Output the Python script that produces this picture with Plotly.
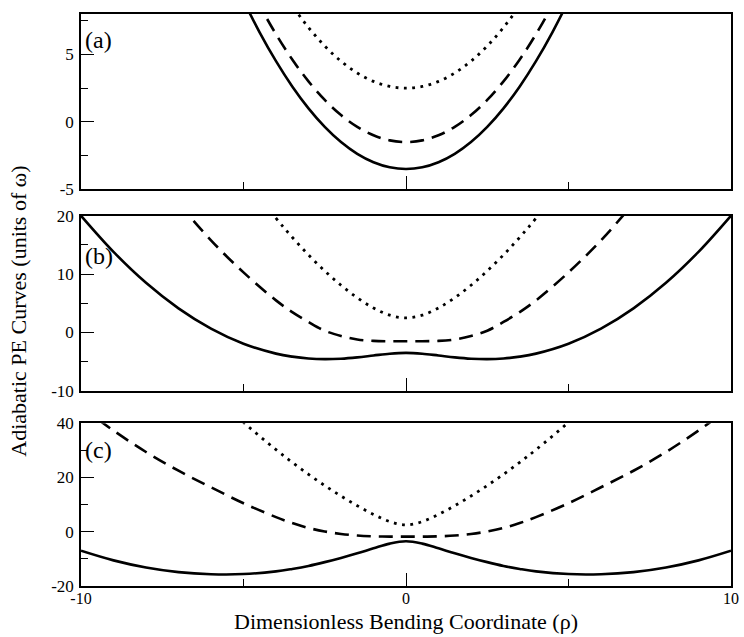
import plotly.graph_objects as go

# ---------------- data ----------------
rho_a = [-6, -5.5, -5, -4.5, -4, -3.5, -3, -2.5, -2, -1.5, -1, -0.5, 0,
         0.5, 1, 1.5, 2, 2.5, 3, 3.5, 4, 4.5, 5, 5.5, 6]
a_solid = [14.5, 11.625, 9.0, 6.625, 4.5, 2.625, 1.0, -0.375, -1.5, -2.375, -3.0, -3.375, -3.5,
           -3.375, -3.0, -2.375, -1.5, -0.375, 1.0, 2.625, 4.5, 6.625, 9.0, 11.625, 14.5]
a_dash = [16.5, 13.625, 11.0, 8.625, 6.5, 4.625, 3.0, 1.625, 0.5, -0.375, -1.0, -1.375, -1.5,
          -1.375, -1.0, -0.375, 0.5, 1.625, 3.0, 4.625, 6.5, 8.625, 11.0, 13.625, 16.5]
a_dot = [20.5, 17.625, 15.0, 12.625, 10.5, 8.625, 7.0, 5.625, 4.5, 3.625, 3.0, 2.625, 2.5,
         2.625, 3.0, 3.625, 4.5, 5.625, 7.0, 8.625, 10.5, 12.625, 15.0, 17.625, 20.5]

rho_bc = [-10, -9, -8, -7, -6, -5, -4, -3.5, -3, -2.5, -2, -1.5, -1, -0.5, 0,
          0.5, 1, 1.5, 2, 2.5, 3, 3.5, 4, 5, 6, 7, 8, 9, 10]
b_solid = [20.02, 13.82, 8.52, 4.14, 0.66, -1.93, -3.63, -4.15, -4.47, -4.58, -4.50, -4.27, -3.95, -3.64, -3.5,
           -3.64, -3.95, -4.27, -4.50, -4.58, -4.47, -4.15, -3.63, -1.93, 0.66, 4.14, 8.52, 13.82, 20.02]
b_dash = [47.0, 37.9, 29.5, 22.2, 15.8, 10.3, 5.5, 3.5, 1.8, 0.3, -0.6, -1.2, -1.45, -1.5, -1.5,
          -1.5, -1.45, -1.2, -0.6, 0.3, 1.8, 3.5, 5.5, 10.3, 15.8, 22.2, 29.5, 37.9, 47.0]
b_dot = [79.0, 66.6, 55.2, 44.7, 35.35, 26.97, 19.6, 16.32, 13.3, 10.55, 8.09, 5.95, 4.2, 2.96, 2.5,
         2.96, 4.2, 5.95, 8.09, 10.55, 13.3, 16.32, 19.6, 26.97, 35.35, 44.7, 55.2, 66.6, 79.0]

c_solid = [-7.0, -10.55, -13.18, -14.88, -15.65, -15.6, -14.6, -13.7, -12.6, -11.2, -9.64, -7.94, -6.12, -4.38, -3.5,
           -4.38, -6.12, -7.94, -9.64, -11.2, -12.6, -13.7, -14.6, -15.6, -15.65, -14.88, -13.18, -10.55, -7.0]
c_dash = [46.1, 37.3, 29.4, 22.5, 16.4, 10.5, 5.4, 3.2, 1.4, 0.1, -0.8, -1.4, -1.7, -1.8, -1.8,
          -1.8, -1.7, -1.4, -0.8, 0.1, 1.4, 3.2, 5.4, 10.5, 16.4, 22.5, 29.4, 37.3, 46.1]
c_dot = [106.0, 90.8, 76.7, 63.6, 51.5, 40.35, 30.26, 25.59, 21.18, 17.04, 13.17, 9.6, 6.39, 3.74, 2.5,
         3.74, 6.39, 9.6, 13.17, 17.04, 21.18, 25.59, 30.26, 40.35, 51.5, 63.6, 76.7, 90.8, 106.0]

x_ticks = [-10, 0, 10]
x_ticktext = ["-10", "0", "10"]
x_minor = [-5, 5]
ya_ticks, ya_text, ya_minor = [-5, 0, 5], ["-5", "0", "5"], [-2.5, 2.5, 7.5]
yb_ticks, yb_text, yb_minor = [-10, 0, 10, 20], ["-10", "0", "10", "20"], [-5, 5, 15]
yc_ticks, yc_text, yc_minor = [-20, 0, 20, 40], ["-20", "0", "20", "40"], [-10, 10, 30]
panel_labels = ["(a)", "(b)", "(c)"]
ytitle = "Adiabatic PE Curves (units of ω)"
xtitle = "Dimensionless Bending Coordinate (ρ)"

# ---------------- figure ----------------
FONT = "Liberation Serif"
W, H = 744, 637
ML, MR, MT, MB = 81, 9, 5, 51
PH = H - MT - MB

def py2paper(py):
    return (H - MB - py) / PH

fig = go.Figure()

styles = [dict(color="black", width=2.6),
          dict(color="black", width=2.6, dash="14px,8px"),
          dict(color="black", width=2.8, dash="2.8px,5.5px")]

panels = [(rho_a, [a_solid, a_dash, a_dot], "x", "y"),
          (rho_bc, [b_solid, b_dash, b_dot], "x2", "y2"),
          (rho_bc, [c_solid, c_dash, c_dot], "x3", "y3")]
for xs, series, xa, ya in panels:
    for ys, st in zip(series, styles):
        fig.add_trace(go.Scatter(x=xs, y=ys, mode="lines", xaxis=xa, yaxis=ya,
                                 line=dict(shape="spline", smoothing=1.0, **st),
                                 showlegend=False, hoverinfo="skip"))

common_axis = dict(showline=True, mirror=True, linecolor="black", linewidth=1.5,
                   showgrid=False, zeroline=False, ticks="inside", ticklen=13,
                   tickwidth=1.2, tickcolor="black",
                   tickfont=dict(family=FONT, size=17, color="black"))

def xaxis(anchor, show):
    return dict(common_axis, range=[-10, 10], anchor=anchor, tickmode="array",
                tickvals=x_ticks, ticktext=x_ticktext, showticklabels=show,
                tickfont=dict(family=FONT, size=16, color="black"),
                ticklabelstandoff=-3,
                minor=dict(tickmode="array", tickvals=x_minor, ticks="inside",
                           ticklen=7, tickwidth=1.2, tickcolor="black"))

def yaxis(anchor, rng, dom, tv, tt, mv):
    return dict(common_axis, range=rng, domain=dom, anchor=anchor, tickmode="array",
                tickvals=tv, ticktext=tt, ticklabelstandoff=2,
                minor=dict(tickmode="array", tickvals=mv, ticks="inside",
                           ticklen=7, tickwidth=1.2, tickcolor="black"))

dom_a = [py2paper(183), 1.0]
dom_b = [py2paper(387.7), py2paper(210)]
dom_c = [0.0, py2paper(420.7)]

fig.update_layout(
    width=W, height=H,
    margin=dict(l=ML, r=MR, t=MT, b=MB),
    paper_bgcolor="white", plot_bgcolor="white",
    font=dict(family=FONT, color="black"),
    xaxis=xaxis("y", False),
    xaxis2=xaxis("y2", False),
    xaxis3=xaxis("y3", True),
    yaxis=yaxis("x", [-5, 8], dom_a, ya_ticks, ya_text, ya_minor),
    yaxis2=yaxis("x2", [-10, 20], dom_b, yb_ticks, yb_text, yb_minor),
    yaxis3=yaxis("x3", [-20, 40], dom_c, yc_ticks, yc_text, yc_minor),
)

label_y = [31, 251, 448]
for lab, py in zip(panel_labels, label_y):
    fig.add_annotation(text=lab, xref="paper", yref="paper", x=(83 - ML) / (W - ML - MR),
                       y=py2paper(py), xanchor="left", yanchor="middle", showarrow=False,
                       font=dict(family=FONT, size=24, color="black"))

fig.add_annotation(text=ytitle, xref="paper", yref="paper", x=(18 - ML) / (W - ML - MR),
                   y=py2paper(307), xanchor="center", yanchor="middle", textangle=-90,
                   showarrow=False, font=dict(family=FONT, size=22, color="black"))
fig.add_annotation(text=xtitle, xref="paper", yref="paper", x=0.5,
                   y=py2paper(622), xanchor="center", yanchor="middle",
                   showarrow=False, font=dict(family=FONT, size=22, color="black"))

fig.write_html("out.html")
